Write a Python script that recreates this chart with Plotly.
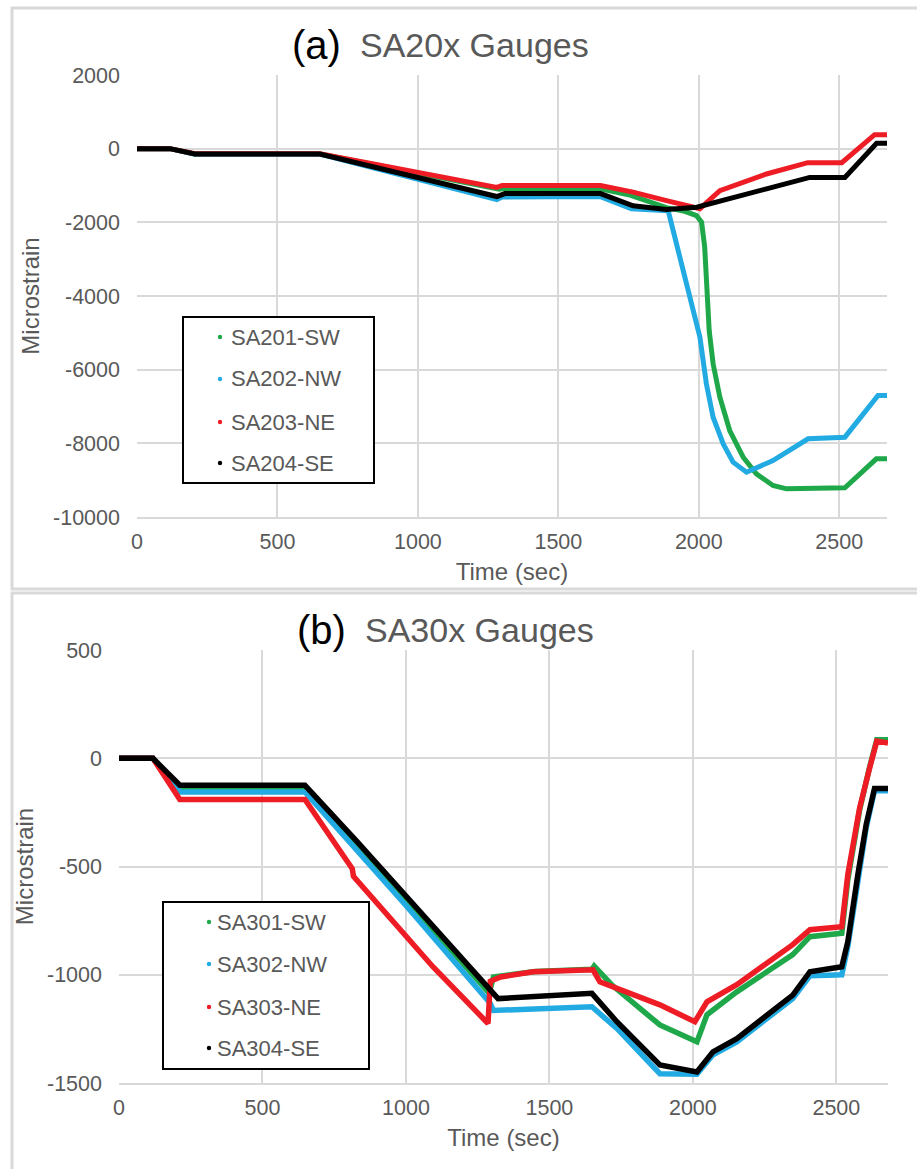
import plotly.graph_objects as go

W, H = 917, 1169

# ---------------- (a) SA20x gauges ----------------
t_201 = [0, 117, 206, 651, 1290, 1300, 1650, 1750, 1885, 1950, 1992, 2010, 2021, 2027, 2037,
         2051, 2075, 2110, 2158, 2205, 2264, 2312, 2520, 2632, 2670]
v_201 = [0, 0, -145, -145, -1100, -1090, -1090, -1250, -1600, -1700, -1818, -2000, -2678, -3582, -4939,
         -5843, -6748, -7652, -8377, -8829, -9145, -9236, -9208, -8421, -8421]

t_202 = [0, 117, 206, 651, 1281, 1300, 1650, 1700, 1760, 1891, 1926, 1962, 2004, 2027, 2051,
         2087, 2122, 2170, 2264, 2389, 2520, 2638, 2670]
v_202 = [0, 0, -150, -150, -1380, -1310, -1300, -1450, -1630, -1683, -2768, -3853, -5120, -6387, -7291,
         -8015, -8512, -8784, -8467, -7878, -7833, -6703, -6703]

t_203 = [0, 117, 206, 651, 1281, 1300, 1650, 1766, 1885, 2004, 2075, 2241, 2388, 2509, 2626, 2670]
v_203 = [0, 0, -140, -140, -1050, -1000, -1000, -1180, -1410, -1630, -1140, -688, -380, -380, 380, 380]

t_204 = [0, 117, 206, 651, 1281, 1310, 1650, 1766, 1885, 1993, 2241, 2395, 2520, 2633, 2670]
v_204 = [0, 0, -145, -145, -1300, -1220, -1220, -1550, -1650, -1590, -1090, -780, -780, 145, 145]

# ---------------- (b) SA30x gauges ----------------
t_301 = [0, 118, 212, 648, 1000, 1290, 1305, 1450, 1648, 1656, 1720, 1885, 2014, 2049, 2153, 2348, 2408,
         2519, 2540, 2581, 2616, 2641, 2680]
v_301 = [0, 0, -140, -140, -650, -1085, -1010, -985, -975, -960, -1050, -1232, -1310, -1185, -1079, -907, -824,
         -808, -560, -240, -40, 85, 85]

t_302 = [0, 118, 212, 648, 1000, 1293, 1305, 1648, 1735, 1885, 2014, 2070, 2153, 2348, 2408, 2519,
         2540, 2575, 2604, 2633, 2680]
v_302 = [0, 0, -156, -156, -680, -1130, -1165, -1148, -1248, -1457, -1460, -1370, -1310, -1110, -1005, -1000,
         -870, -560, -320, -150, -150]

t_303 = [0, 118, 212, 648, 813, 817, 1094, 1286, 1294, 1330, 1443, 1652, 1676, 1885, 2007, 2049,
         2153, 2348, 2408, 2519, 2540, 2581, 2616, 2641, 2680]
v_303 = [0, 0, -190, -190, -510, -545, -963, -1225, -1030, -1010, -986, -977, -1033, -1139, -1217, -1125,
         -1046, -861, -792, -778, -537, -230, -45, 79, 70]

t_304 = [0, 118, 212, 648, 829, 1094, 1321, 1648, 1735, 1885, 2014, 2070, 2153, 2348, 2408, 2519,
         2540, 2575, 2604, 2633, 2680]
v_304 = [0, 0, -125, -125, -384, -770, -1110, -1086, -1217, -1417, -1449, -1356, -1295, -1094, -986, -963,
         -847, -537, -306, -140, -140]

names_a = ["SA201-SW", "SA202-NW", "SA203-NE", "SA204-SE"]
names_b = ["SA301-SW", "SA302-NW", "SA303-NE", "SA304-SE"]
colors = ["#1fa84a", "#22aae2", "#ee1d25", "#000000"]

time_ticks = [0, 500, 1000, 1500, 2000, 2500]
ticks_a = [2000, 0, -2000, -4000, -6000, -8000, -10000]
ticks_b = [500, 0, -500, -1000, -1500]

series_a = [(t_201, v_201), (t_202, v_202), (t_203, v_203), (t_204, v_204)]
series_b = [(t_301, v_301), (t_302, v_302), (t_303, v_303), (t_304, v_304)]

FONT = "Liberation Sans, Arial, sans-serif"
GRID = "#d9d9d9"
TXT = "#595959"

fig = go.Figure()
for (t, v), name, c in zip(series_a, names_a, colors):
    fig.add_trace(go.Scatter(x=t, y=v, name=name, mode="lines", line=dict(color=c, width=5),
                             xaxis="x", yaxis="y", showlegend=False))
for (t, v), name, c in zip(series_b, names_b, colors):
    fig.add_trace(go.Scatter(x=t, y=v, name=name, mode="lines", line=dict(color=c, width=5.5),
                             xaxis="x2", yaxis="y2", showlegend=False))


def px_x(p):
    return p / W


def px_y(p):
    return 1 - p / H


def labels(vals):
    # plain hyphen minus for negative tick labels
    return [str(v) for v in vals]


axis_common = dict(showgrid=True, gridcolor=GRID, gridwidth=1.5, zeroline=False, ticks="", automargin=False,
                   tickfont=dict(family=FONT, size=21.5, color=TXT), showline=False)
title_font = dict(family=FONT, size=24, color=TXT)

fig.update_layout(
    width=W, height=H, margin=dict(l=0, r=0, t=0, b=0),
    paper_bgcolor="white", plot_bgcolor="white",
    xaxis=dict(axis_common, domain=[px_x(137), px_x(887)], range=[0, 2670],
               tickvals=time_ticks, ticktext=labels(time_ticks),
               anchor="y", showline=True, linecolor=GRID, linewidth=2, ticklabelstandoff=4,
               title=dict(text="Time (sec)", font=title_font, standoff=10)),
    yaxis=dict(axis_common, domain=[px_y(517), px_y(75)], range=[-10000, 2000],
               tickvals=ticks_a, ticktext=labels(ticks_a), anchor="x",
               ticklabelstandoff=16,
               title=dict(text="Microstrain", font=title_font, standoff=6)),
    xaxis2=dict(axis_common, domain=[px_x(119), px_x(888)], range=[0, 2680],
                tickvals=time_ticks, ticktext=labels(time_ticks),
                anchor="y2", showline=True, linecolor=GRID, linewidth=2, ticklabelstandoff=4,
                title=dict(text="Time (sec)", font=title_font, standoff=10)),
    yaxis2=dict(axis_common, domain=[px_y(1083), px_y(650)], range=[-1500, 500],
                tickvals=ticks_b, ticktext=labels(ticks_b), anchor="x2",
                ticklabelstandoff=16,
                title=dict(text="Microstrain", font=title_font, standoff=6)),
)

shapes = []
annotations = []

# panel frames
shapes.append(dict(type="rect", xref="paper", yref="paper", x0=px_x(12), x1=px_x(925), y0=px_y(589), y1=px_y(8),
                   line=dict(color=GRID, width=3), layer="below"))
shapes.append(dict(type="rect", xref="paper", yref="paper", x0=px_x(12), x1=px_x(925), y0=px_y(1180), y1=px_y(593),
                   line=dict(color=GRID, width=3), layer="below"))

# titles
for label, text, yc, xr in [("(a)", "SA20x Gauges", 45, 343), ("(b)", "SA30x Gauges", 630, 348)]:
    annotations.append(dict(xref="paper", yref="paper", x=px_x(xr), y=px_y(yc), xanchor="right", yanchor="middle",
                            text=label, showarrow=False, font=dict(family=FONT, size=40, color="black")))
    annotations.append(dict(xref="paper", yref="paper", x=px_x(xr + 15), y=px_y(yc), xanchor="left", yanchor="middle",
                            text=text, showarrow=False, font=dict(family=FONT, size=34, color=TXT)))


# in-plot legends with a black frame
def legend_box(x0, x1, y0, y1, rows, dot_x, text_x, names):
    shapes.append(dict(type="rect", xref="paper", yref="paper", x0=px_x(x0), x1=px_x(x1), y0=px_y(y1), y1=px_y(y0),
                       line=dict(color="black", width=2), fillcolor="white", layer="above"))
    for yr, name, c in zip(rows, names, colors):
        r = 2.2
        shapes.append(dict(type="circle", xref="paper", yref="paper", x0=px_x(dot_x - r), x1=px_x(dot_x + r),
                           y0=px_y(yr + r), y1=px_y(yr - r), line=dict(width=0), fillcolor=c, layer="above"))
        annotations.append(dict(xref="paper", yref="paper", x=px_x(text_x), y=px_y(yr), xanchor="left",
                                yanchor="middle", text=name, showarrow=False,
                                font=dict(family=FONT, size=22, color=TXT)))


legend_box(183, 374, 317, 483, [337, 379, 422, 463], 220, 229, names_a)
legend_box(163, 369, 902, 1069, [922, 964, 1007, 1048], 209, 215, names_b)

fig.update_layout(shapes=shapes, annotations=annotations)
fig.write_html("out.html")
